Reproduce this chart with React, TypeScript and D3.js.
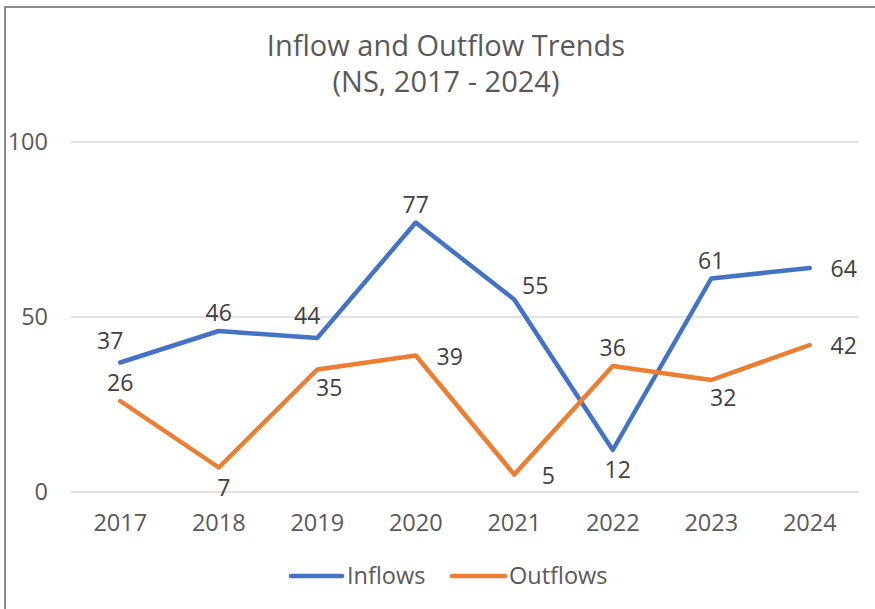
import React from "react";
import * as d3 from "d3";

const years = ["2017", "2018", "2019", "2020", "2021", "2022", "2023", "2024"];
const inflows = [37, 46, 44, 77, 55, 12, 61, 64];
const outflows = [26, 7, 35, 39, 5, 36, 32, 42];
const inflowLabelPos = ["aboveLeft", "above", "aboveLeft", "above", "aboveRight", "below", "above", "right"];
const outflowLabelPos = ["above", "below", "belowRight", "right", "right", "above", "belowRight", "right"];
const yTicks = [0, 50, 100];

const W = 875;
const H = 609;
const FONT = "'Open Sans', 'DejaVu Sans', sans-serif";

const x = d3.scaleBand<string>().domain(years).range([71, 859]);
const y = d3.scaleLinear().domain([0, 100]).range([492, 142]);

function offset(pos: string): [number, number] {
  switch (pos) {
    case "above": return [0, -18];
    case "aboveLeft": return [-10, -22];
    case "aboveRight": return [21, -14];
    case "below": return [5, 20];
    case "belowRight": return [12, 18];
    case "right": return [34, 1];
    default: return [0, -18];
  }
}

export default function App() {
  const cx = (d: string) => (x(d) as number) + x.bandwidth() / 2;
  const line = d3
    .line<number>()
    .x((_, i) => cx(years[i]))
    .y((v) => y(v));
  const series = [
    { name: "Inflows", values: inflows, color: "#4472C4", pos: inflowLabelPos },
    { name: "Outflows", values: outflows, color: "#ED7D31", pos: outflowLabelPos },
  ];
  return (
    <svg
      width={W}
      height={H}
      style={{ position: "absolute", left: 0, top: 0, background: "#fff" }}
      fontFamily={FONT}
    >
      <rect x={0} y={0} width={W} height={H} fill="#fff" />
      <rect x={5} y={7} width={W + 50} height={H + 50} fill="none" stroke="#8a8a8a" strokeWidth={2} />
      <text x={446} y={56} textAnchor="middle" fontSize={29} fill="#595959">
        Inflow and Outflow Trends
      </text>
      <text x={446} y={92} textAnchor="middle" fontSize={29} fill="#595959">
        (NS, 2017 - 2024)
      </text>
      {yTicks.map((t) => (
        <g key={t}>
          <line x1={71} x2={859} y1={y(t)} y2={y(t)} stroke="#d9d9d9" strokeWidth={1.5} />
          <text x={48} y={y(t)} dy="0.35em" textAnchor="end" fontSize={23.5} fill="#595959">
            {t}
          </text>
        </g>
      ))}
      {years.map((yr) => (
        <text key={yr} x={cx(yr)} y={523} dy="0.35em" textAnchor="middle" fontSize={23.5} fill="#595959">
          {yr}
        </text>
      ))}
      {series.map((s) => (
        <g key={s.name}>
          <path
            d={line(s.values) || ""}
            fill="none"
            stroke={s.color}
            strokeWidth={4.5}
            strokeLinejoin="round"
            strokeLinecap="round"
          />
          {s.values.map((v, i) => {
            const [dx, dy] = offset(s.pos[i]);
            return (
              <text
                key={i}
                x={cx(years[i]) + dx}
                y={y(v) + dy}
                dy="0.35em"
                textAnchor="middle"
                fontSize={23}
                fill="#404040"
              >
                {v}
              </text>
            );
          })}
        </g>
      ))}
      <g>
        <line x1={291} x2={342} y1={576} y2={576} stroke="#4472C4" strokeWidth={4.5} strokeLinecap="round" />
        <text x={347} y={576} dy="0.35em" fontSize={23.5} fill="#595959">Inflows</text>
        <line x1={452} x2={505} y1={576} y2={576} stroke="#ED7D31" strokeWidth={4.5} strokeLinecap="round" />
        <text x={509} y={576} dy="0.35em" fontSize={23.5} fill="#595959">Outflows</text>
      </g>
    </svg>
  );
}
